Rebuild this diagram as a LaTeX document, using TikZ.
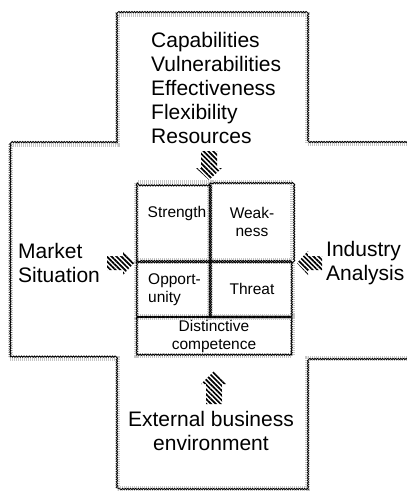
\documentclass[tikz,border=0pt]{standalone}
\usepackage{fontspec}
\setmainfont{Liberation Sans}
\usetikzlibrary{decorations.pathmorphing,patterns.meta}
\begin{document}
\begin{tikzpicture}[x=1pt,y=-1pt,
  wavy/.style={decorate,decoration={snake,amplitude=0.6pt,segment length=2.6pt},line width=0.9pt,draw=black},
  halo/.style={draw=gray!45,line width=5pt,dash pattern=on 0.8pt off 1.2pt},
  bigtext/.style={font=\fontsize{21}{24}\selectfont,inner sep=0pt},
  smalltext/.style={font=\fontsize{15.5}{18}\selectfont,inner sep=0pt},
  cellbox/.style={draw=none,inner sep=0pt},
  hatchfill/.style={pattern={Lines[angle=-45,distance=3.4pt,line width=1.7pt]}}
]
\clip (0,0) rectangle (407,491);

% cross-shaped frame (halo first, then the wavy outline)
\draw[halo] (117,488) -- (117,358) -- (10,358) -- (10,144) -- (117,144)
  -- (117,14) -- (307,14) -- (307,143) -- (420,143) -- (420,358) -- (307,358) -- (307,488) -- cycle;
\draw[wavy] (117,488) -- (117,358) -- (10,358) -- (10,144) -- (117,144)
  -- (117,14) -- (307,14) -- (307,143) -- (420,143) -- (420,358) -- (307,358) -- (307,488) -- cycle;

% SWOT grid cells
\node[cellbox,minimum width=73pt,minimum height=78pt] (str) at (173.5,222) {};
\node[cellbox,minimum width=82pt,minimum height=78pt] (wk) at (251,222) {};
\node[cellbox,minimum width=73pt,minimum height=56pt] (opp) at (173.5,289) {};
\node[cellbox,minimum width=82pt,minimum height=56pt] (thr) at (251,289) {};
\node[cellbox,minimum width=155pt,minimum height=38pt] (dc) at (214.5,336) {};
\foreach \c in {str,wk,opp,thr,dc}
  \draw[halo] (\c.north west) rectangle (\c.south east);
\foreach \c in {str,wk,opp,thr,dc}
  \draw[wavy] (\c.north west) rectangle (\c.south east);

% cell labels
\node[smalltext] (tS) at (177,213) {Strength};
\node[smalltext,align=center] (tW) at (252,222) {Weak-\\ness};
\node[smalltext,align=left,anchor=west] (tO) at (148,290) {Opport-\\unity};
\node[smalltext] (tT) at (252,289) {Threat};
\node[smalltext,align=center] (tD) at (214,336) {Distinctive\\competence};

% outer labels
\node[bigtext,align=left,anchor=west] (caps) at (151,88) {Capabilities\\Vulnerabilities\\Effectiveness\\Flexibility\\Resources};
\node[bigtext,align=left,anchor=west] (mkt) at (18,263) {Market\\Situation};
\node[bigtext,align=left,anchor=west] (ind) at (326,263) {Industry\\Analysis};
\node[bigtext,align=center] (ext) at (211,431) {External business\\environment};

% hatched block arrows pointing at the grid (tips named)
\coordinate (tipT) at (209,180);
\coordinate (tipL) at (134,263);
\coordinate (tipR) at (297,263);
\coordinate (tipB) at (214,371);
\fill[hatchfill] (tipT) -- ++(-13,-12) -- ++(5,0) -- ++(0,-17) -- ++(16,0) -- ++(0,17) -- ++(5,0) -- cycle;
\fill[hatchfill] (tipL) -- ++(-11,-12) -- ++(0,5) -- ++(-16,0) -- ++(0,14) -- ++(16,0) -- ++(0,5) -- cycle;
\fill[hatchfill] (tipR) -- ++(11,-12) -- ++(0,5) -- ++(14,0) -- ++(0,14) -- ++(-14,0) -- ++(0,5) -- cycle;
\fill[hatchfill] (tipB) -- ++(-13,13) -- ++(5,0) -- ++(0,20) -- ++(16,0) -- ++(0,-20) -- ++(5,0) -- cycle;
\end{tikzpicture}
\end{document}
